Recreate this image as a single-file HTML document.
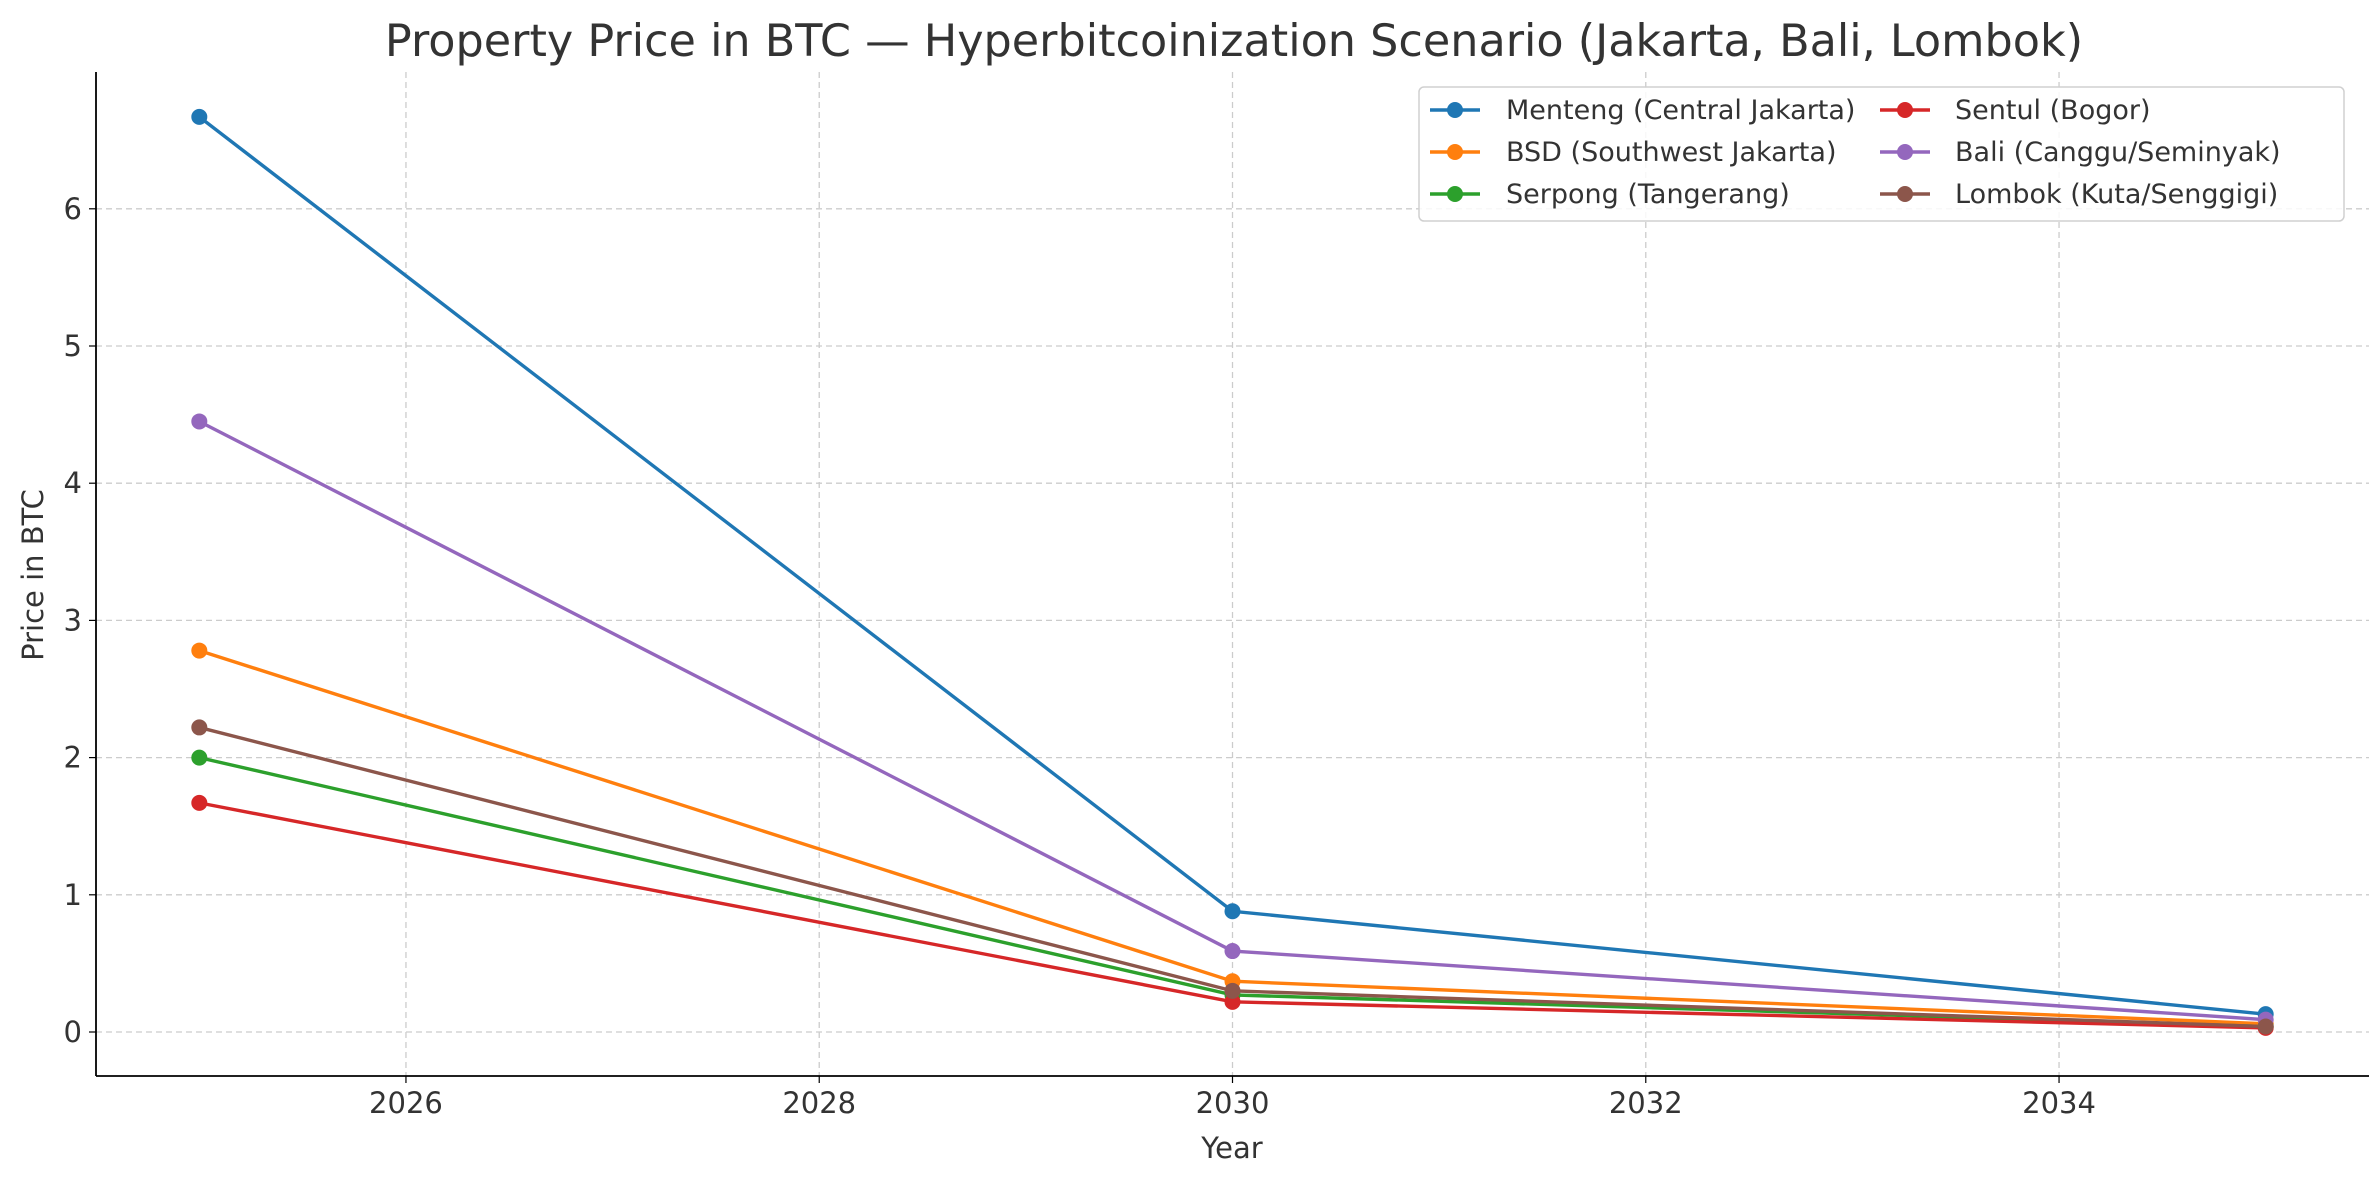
<!DOCTYPE html>
<html><head><meta charset="utf-8"><style>
html,body{margin:0;padding:0;background:#fff}
svg text{font-family:"DejaVu Sans","Liberation Sans",sans-serif;fill:#333}
</style></head><body>
<svg id="chart" width="2379" height="1180" xmlns="http://www.w3.org/2000/svg">
<rect width="2379" height="1180" fill="#fff"/>
<g id="grid"></g><g id="axes"></g><g id="series"></g><g id="legend"></g>
<text x="1234" y="56" text-anchor="middle" font-size="44.5">Property Price in BTC — Hyperbitcoinization Scenario (Jakarta, Bali, Lombok)</text>
<text x="1232" y="1158" text-anchor="middle" font-size="29">Year</text>
<text transform="translate(43,575) rotate(-90)" text-anchor="middle" font-size="29">Price in BTC</text>
</svg>
<script>
const years=[2025,2030,2035];
const seriesNames=["Menteng (Central Jakarta)","BSD (Southwest Jakarta)","Serpong (Tangerang)","Sentul (Bogor)","Bali (Canggu/Seminyak)","Lombok (Kuta/Senggigi)"];
const menteng=[6.67,0.88,0.13];
const bsd=[2.78,0.37,0.06];
const serpong=[2.0,0.27,0.04];
const sentul=[1.67,0.22,0.03];
const bali=[4.45,0.59,0.09];
const lombok=[2.22,0.30,0.04];
const xTicks=[2026,2028,2030,2032,2034];
const yTicks=[0,1,2,3,4,5,6];
const colors=["#1f77b4","#ff7f0e","#2ca02c","#d62728","#9467bd","#8c564b"];
const allSeries=[menteng,bsd,serpong,sentul,bali,lombok];
const NS="http://www.w3.org/2000/svg";
const L=96,R=2369,T=72,B=1076;
const X=v=>L+(v-2024.5)/11*(R-L);
const Y=v=>1032-v*137.2;
function mk(tag,attrs,parent){const e=document.createElementNS(NS,tag);for(const k in attrs)e.setAttribute(k,attrs[k]);parent.appendChild(e);return e;}
const grid=document.getElementById('grid'),axes=document.getElementById('axes'),ser=document.getElementById('series'),leg=document.getElementById('legend');
xTicks.forEach(t=>{
 const g=mk('line',{x1:X(t),x2:X(t),y1:T,y2:B,stroke:'#cccccc','stroke-width':1.3,'stroke-dasharray':'6,4'},grid);
 
 
 mk('line',{x1:X(t),x2:X(t),y1:B,y2:B+7,stroke:'#000','stroke-width':1.2},axes);
 const tx=mk('text',{x:X(t),y:B+37,'text-anchor':'middle','font-size':29},axes);tx.textContent=t;
 
 
});
yTicks.forEach(t=>{
 const g=mk('line',{x1:L,x2:R,y1:Y(t),y2:Y(t),stroke:'#cccccc','stroke-width':1.3,'stroke-dasharray':'6,4'},grid);
 
 
 mk('line',{x1:L-7,x2:L,y1:Y(t),y2:Y(t),stroke:'#000','stroke-width':1.2},axes);
 const tx=mk('text',{x:L-14,y:Y(t)+10,'text-anchor':'end','font-size':29},axes);tx.textContent=t;
 
 
});
const xa=mk('line',{x1:L,x2:R,y1:B,y2:B,stroke:'#000','stroke-width':1.8},axes);


const ya=mk('line',{x1:L,x2:L,y1:T,y2:B,stroke:'#000','stroke-width':1.8},axes);


allSeries.forEach((s,i)=>{
 const p=mk('polyline',{points:s.map((v,j)=>X(years[j])+','+Y(v)).join(' '),fill:'none',stroke:colors[i],'stroke-width':3.4},ser);
 
 
});
allSeries.forEach((s,i)=>{
 s.forEach((v,j)=>{
  const c=mk('circle',{cx:X(years[j]),cy:Y(v),r:8,fill:colors[i]},ser);
  
  
 });
});
const box=mk('rect',{x:1419,y:87,width:925,height:134,rx:5,fill:'#fff','fill-opacity':0.85,stroke:'#d0d0d0','stroke-width':1.5},leg);


seriesNames.forEach((n,i)=>{
 const col=Math.floor(i/3),row=i%3;
 const hx=col?1880:1430,ty=110+row*42,tx=col?1955:1506;
 mk('line',{x1:hx,x2:hx+50,y1:ty,y2:ty,stroke:colors[i],'stroke-width':3.4},leg);
 mk('circle',{cx:hx+25,cy:ty,r:8,fill:colors[i]},leg);
 const t=mk('text',{x:tx,y:ty+9,'font-size':27},leg);t.textContent=n;
 
 
});
</script>
</body></html>
